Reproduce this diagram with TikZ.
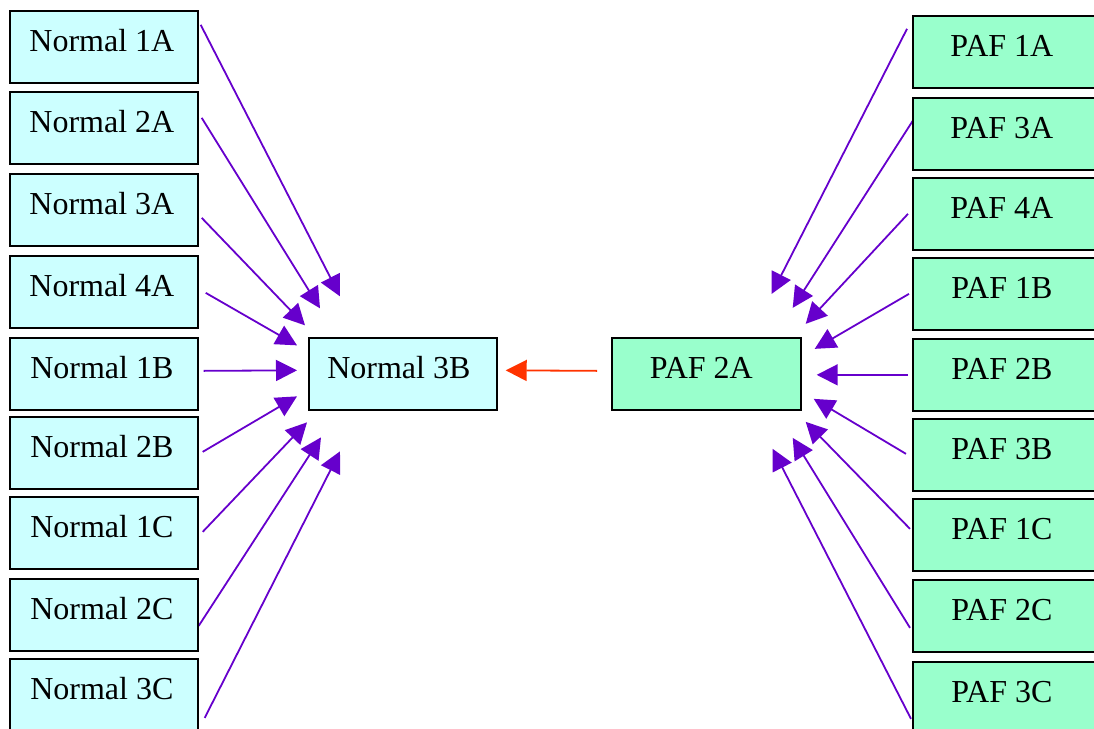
\documentclass[tikz,border=0pt]{standalone}
\usepackage{fontspec}
\setmainfont{Liberation Serif}
\usetikzlibrary{arrows.meta,calc,backgrounds}
\definecolor{normfill}{HTML}{CCFFFF}
\definecolor{paffill}{HTML}{99FFCC}
\definecolor{linkviolet}{HTML}{6600CC}
\definecolor{linkred}{HTML}{FF3300}
\tikzset{
  box/.style={draw=black, line width=1.7pt, minimum width=188pt, minimum height=72pt,
    inner sep=0pt, anchor=north west},
  normalbox/.style={box, fill=normfill},
  pafbox/.style={box, fill=paffill},
  pafside/.style={pafbox, minimum width=196pt},
  lbl/.style={font=\fontsize{32}{36}\selectfont, text height=21pt, text depth=0pt,
    inner sep=0pt, yshift=6pt},
  feed/.style={draw=linkviolet, line width=1.8pt, -{Triangle[length=21pt,width=21pt]}},
  mainlink/.style={draw=linkred, line width=1.8pt, -{Triangle[length=21pt,width=21pt]}},
}
\begin{document}
\begin{tikzpicture}[x=1pt,y=-1pt]
\clip (0,0) rectangle (1094,728);

% left column
\node[normalbox, label={[lbl,xshift=-2pt]center:Normal 1A}] (n1a) at (9,10) {};
\node[normalbox, label={[lbl,xshift=-2pt]center:Normal 2A}] (n2a) at (9,91) {};
\node[normalbox, label={[lbl,xshift=-2pt]center:Normal 3A}] (n3a) at (9,173) {};
\node[normalbox, label={[lbl,xshift=-2pt]center:Normal 4A}] (n4a) at (9,255) {};
\node[normalbox, label={[lbl,xshift=-2pt]center:Normal 1B}] (n1b) at (9,337) {};
\node[normalbox, label={[lbl,xshift=-2pt]center:Normal 2B}] (n2b) at (9,416) {};
\node[normalbox, label={[lbl,xshift=-2pt]center:Normal 1C}] (n1c) at (9,496) {};
\node[normalbox, label={[lbl,xshift=-2pt]center:Normal 2C}] (n2c) at (9,578) {};
\node[normalbox, label={[lbl,xshift=-2pt]center:Normal 3C}] (n3c) at (9,658) {};

% centre pair
\node[normalbox, label={[lbl,xshift=-4pt]center:Normal 3B}] (n3b) at (308,337) {};
\node[pafbox, minimum width=189pt, label={[lbl,xshift=-5pt]center:PAF 2A}] (p2a) at (611,337) {};

% right column
\node[pafside, label={[lbl,xshift=-9pt]center:PAF 1A}] (p1a) at (912,15) {};
\node[pafside, label={[lbl,xshift=-9pt]center:PAF 3A}] (p3a) at (912,97) {};
\node[pafside, label={[lbl,xshift=-9pt]center:PAF 4A}] (p4a) at (912,177) {};
\node[pafside, label={[lbl,xshift=-9pt]center:PAF 1B}] (p1b) at (912,257) {};
\node[pafside, label={[lbl,xshift=-9pt]center:PAF 2B}] (p2b) at (912,338) {};
\node[pafside, label={[lbl,xshift=-9pt]center:PAF 3B}] (p3b) at (912,418) {};
\node[pafside, label={[lbl,xshift=-9pt]center:PAF 1C}] (p1c) at (912,498) {};
\node[pafside, label={[lbl,xshift=-9pt]center:PAF 2C}] (p2c) at (912,579) {};
\node[pafside, label={[lbl,xshift=-9pt]center:PAF 3C}] (p3c) at (912,661) {};

\begin{scope}[on background layer]
% links into Normal 3B
\draw[feed] ($(n1a.east)+(2,-22)$) -- ($(n3b.west)+(32,-77.5)$);
\draw[feed] ($(n2a.east)+(3,-10)$) -- ($(n3b.west)+(12,-65.5)$);
\draw[feed] ($(n3a.east)+(3,8)$)   -- ($(n3b.west)+(-3,-48.5)$);
\draw[feed] ($(n4a.east)+(7,1)$)   -- ($(n3b.west)+(-11,-28.5)$);
\draw[feed] ($(n1b.east)+(5,-3)$)  -- ($(n3b.west)+(-11,-3.5)$);
\draw[feed] ($(n2b.east)+(4,-1)$)  -- ($(n3b.west)+(-11,22.5)$);
\draw[feed] ($(n1c.east)+(4,-1)$)  -- ($(n3b.west)+(-1,48.5)$);
\draw[feed] ($(n2c.east)+(0,11)$)  -- ($(n3b.west)+(13,63.5)$);
\draw[feed] ($(n3c.east)+(6,23)$)  -- ($(n3b.west)+(32,77.5)$);

% links into PAF 2A
\draw[feed] ($(p1a.west)+(-5,-23)$) -- ($(p2a.east)+(-30,-80)$);
\draw[feed] ($(p3a.west)+(2,-15)$)  -- ($(p2a.east)+(-9,-66)$);
\draw[feed] ($(p4a.west)+(-4,0)$)   -- ($(p2a.east)+(4,-50)$);
\draw[feed] ($(p1b.west)+(-3,0)$)   -- ($(p2a.east)+(13,-25)$);
\draw[feed] ($(p2b.west)+(-4,0)$)   -- ($(p2a.east)+(15,1)$);
\draw[feed] ($(p3b.west)+(-6,-1)$)  -- ($(p2a.east)+(12,25)$);
\draw[feed] ($(p1c.west)+(-2,-6)$)  -- ($(p2a.east)+(4,48)$);
\draw[feed] ($(p2c.west)+(-2,12)$)  -- ($(p2a.east)+(-9,64)$);
\draw[feed] ($(p3c.west)+(-1,21)$)  -- ($(p2a.east)+(-29,75)$);

% PAF 2A to Normal 3B
\draw[mainlink] ($(p2a.west)+(-14,-3)$) -- ($(n3b.east)+(8,-3.5)$);
\end{scope}
\end{tikzpicture}
\end{document}
